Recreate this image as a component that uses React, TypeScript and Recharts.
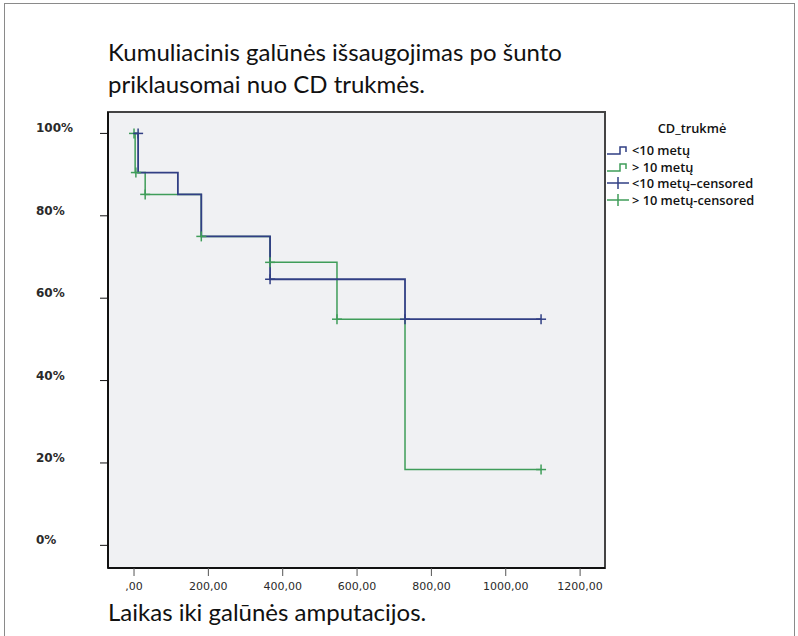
import { ComposedChart, Line, Scatter, XAxis, YAxis, ReferenceArea } from 'recharts';

// Kaplan-Meier steps (days, % limbs preserved)
const shortTimes = [0, 11, 118, 181, 366, 729, 1095];
const shortSurvival = [100, 90.5, 85.2, 75, 64.6, 54.9, 54.9];
const longTimes = [0, 3, 30, 181, 366, 546, 729, 1095];
const longSurvival = [100, 90.5, 85.2, 75, 68.7, 54.9, 18.4, 18.4];

// censored observations
const shortCensoredTimes = [11, 366, 729, 1095];
const shortCensoredSurvival = [100, 64.6, 54.9, 54.9];
const longCensoredTimes = [0, 5, 30, 181, 366, 546, 1095];
const longCensoredSurvival = [100, 90.5, 85.2, 75, 68.7, 54.9, 18.4];

const xTicks = [0, 200, 400, 600, 800, 1000, 1200];
const yTicks = [0, 20, 40, 60, 80, 100];

const BLUE = '#313f84';
const GREEN = '#3f9d59';

const toPoints = (xs: number[], ys: number[]) => xs.map((x, i) => ({ x, y: ys[i] }));

const shortData = toPoints(shortTimes, shortSurvival);
const longData = toPoints(longTimes, longSurvival);
const shortCensored = toPoints(shortCensoredTimes, shortCensoredSurvival);
const longCensored = toPoints(longCensoredTimes, longCensoredSurvival);

const cross = (color: string) => (props: any) => {
  const { cx, cy } = props;
  return (
    <g stroke={color} strokeWidth={1.5}>
      <line x1={cx - 5} x2={cx + 5} y1={cy} y2={cy} />
      <line x1={cx} x2={cx} y1={cy - 5} y2={cy + 5} />
    </g>
  );
};

const YTick = ({ y, payload }: any) => (
  <text x={36} y={y} dy={-1} fontSize={12} fontWeight="bold" fontFamily="DejaVu Sans" fill="#2a2a2a">
    {`${payload.value}%`}
  </text>
);

const xLabel = (v: number) => (v === 0 ? ',00' : `${v},00`);

const StepIcon = ({ color }: { color: string }) => (
  <svg width={22} height={12} style={{ display: 'block' }}>
    <path d="M0,10 H13 V3 H19 V8" fill="none" stroke={color} strokeWidth={1.5} />
  </svg>
);

const CrossIcon = ({ color }: { color: string }) => (
  <svg width={22} height={12} style={{ display: 'block' }}>
    <line x1={0} x2={22} y1={6} y2={6} stroke={color} strokeWidth={1.5} />
    <line x1={11} x2={11} y1={0} y2={12} stroke={color} strokeWidth={1.5} />
  </svg>
);

const legendItems = [
  { label: '<10 metų', icon: <StepIcon color={BLUE} /> },
  { label: '> 10 metų', icon: <StepIcon color={GREEN} /> },
  { label: '<10 metų–censored', icon: <CrossIcon color={BLUE} /> },
  { label: '> 10 metų-censored', icon: <CrossIcon color={GREEN} /> },
];

export default function App() {
  return (
    <div
      style={{
        position: 'absolute',
        left: 0,
        top: 0,
        width: 798,
        height: 636,
        background: '#fff',
        overflow: 'hidden',
      }}
    >
      <div
        style={{
          position: 'absolute',
          left: 4,
          top: 3,
          width: 789,
          height: 660,
          border: '1px solid #8a8a8a',
        }}
      />
      <div
        style={{
          position: 'absolute',
          left: 108,
          top: 36,
          fontFamily: 'Lato',
          fontSize: 24,
          lineHeight: '32px',
          color: '#111',
        }}
      >
        Kumuliacinis galūnės išsaugojimas po šunto
        <br />
        priklausomai nuo CD trukmės.
      </div>
      <div
        style={{
          position: 'absolute',
          left: 108,
          top: 596,
          fontFamily: 'Lato',
          fontSize: 24,
          lineHeight: '32px',
          color: '#111',
        }}
      >
        Laikas iki galūnės amputacijos.
      </div>

      <ComposedChart
        width={798}
        height={636}
        margin={{ top: 112, right: 193, bottom: 38, left: 28 }}
        style={{ position: 'absolute', left: 0, top: 0 }}
      >
        <XAxis
          dataKey="x"
          type="number"
          domain={[-70, 1267]}
          ticks={xTicks}
          allowDataOverflow
          height={30}
          tickFormatter={xLabel}
          tick={{ fontSize: 11, fontFamily: 'DejaVu Sans', fill: '#2a2a2a' }}
          tickSize={8}
          tickMargin={6}
          tickLine={{ stroke: '#555' }}
          axisLine={{ stroke: '#111', strokeWidth: 2 }}
        />
        <YAxis
          type="number"
          domain={[-5.5, 105.2]}
          ticks={yTicks}
          allowDataOverflow
          width={80}
          tick={<YTick />}
          tickSize={8}
          tickLine={{ stroke: '#111' }}
          axisLine={{ stroke: '#111', strokeWidth: 2 }}
        />
        <ReferenceArea
          x1={-70}
          x2={1267}
          y1={-5.5}
          y2={105.2}
          fill="#f0f1f3"
          fillOpacity={1}
          stroke="#444"
          strokeWidth={2}
        />
        <Line
          data={longData}
          dataKey="y"
          type="stepAfter"
          stroke={GREEN}
          strokeWidth={1.5}
          dot={false}
          isAnimationActive={false}
        />
        <Line
          data={shortData}
          dataKey="y"
          type="stepAfter"
          stroke={BLUE}
          strokeWidth={1.8}
          dot={false}
          isAnimationActive={false}
        />
        <Scatter data={longCensored} dataKey="y" shape={cross(GREEN)} isAnimationActive={false} />
        <Scatter data={shortCensored} dataKey="y" shape={cross(BLUE)} isAnimationActive={false} />
      </ComposedChart>

      <div
        style={{
          position: 'absolute',
          left: 607,
          top: 119,
          fontFamily: 'Open Sans',
          fontSize: 12.8,
          fontWeight: 600,
          color: '#111',
        }}
      >
        <div style={{ textAlign: 'center', width: 170, marginBottom: 5 }}>CD_trukmė</div>
        {legendItems.map((item) => (
          <div
            key={item.label}
            style={{ display: 'flex', alignItems: 'center', height: 16.5, gap: 3 }}
          >
            {item.icon}
            <span>{item.label}</span>
          </div>
        ))}
      </div>
    </div>
  );
}
